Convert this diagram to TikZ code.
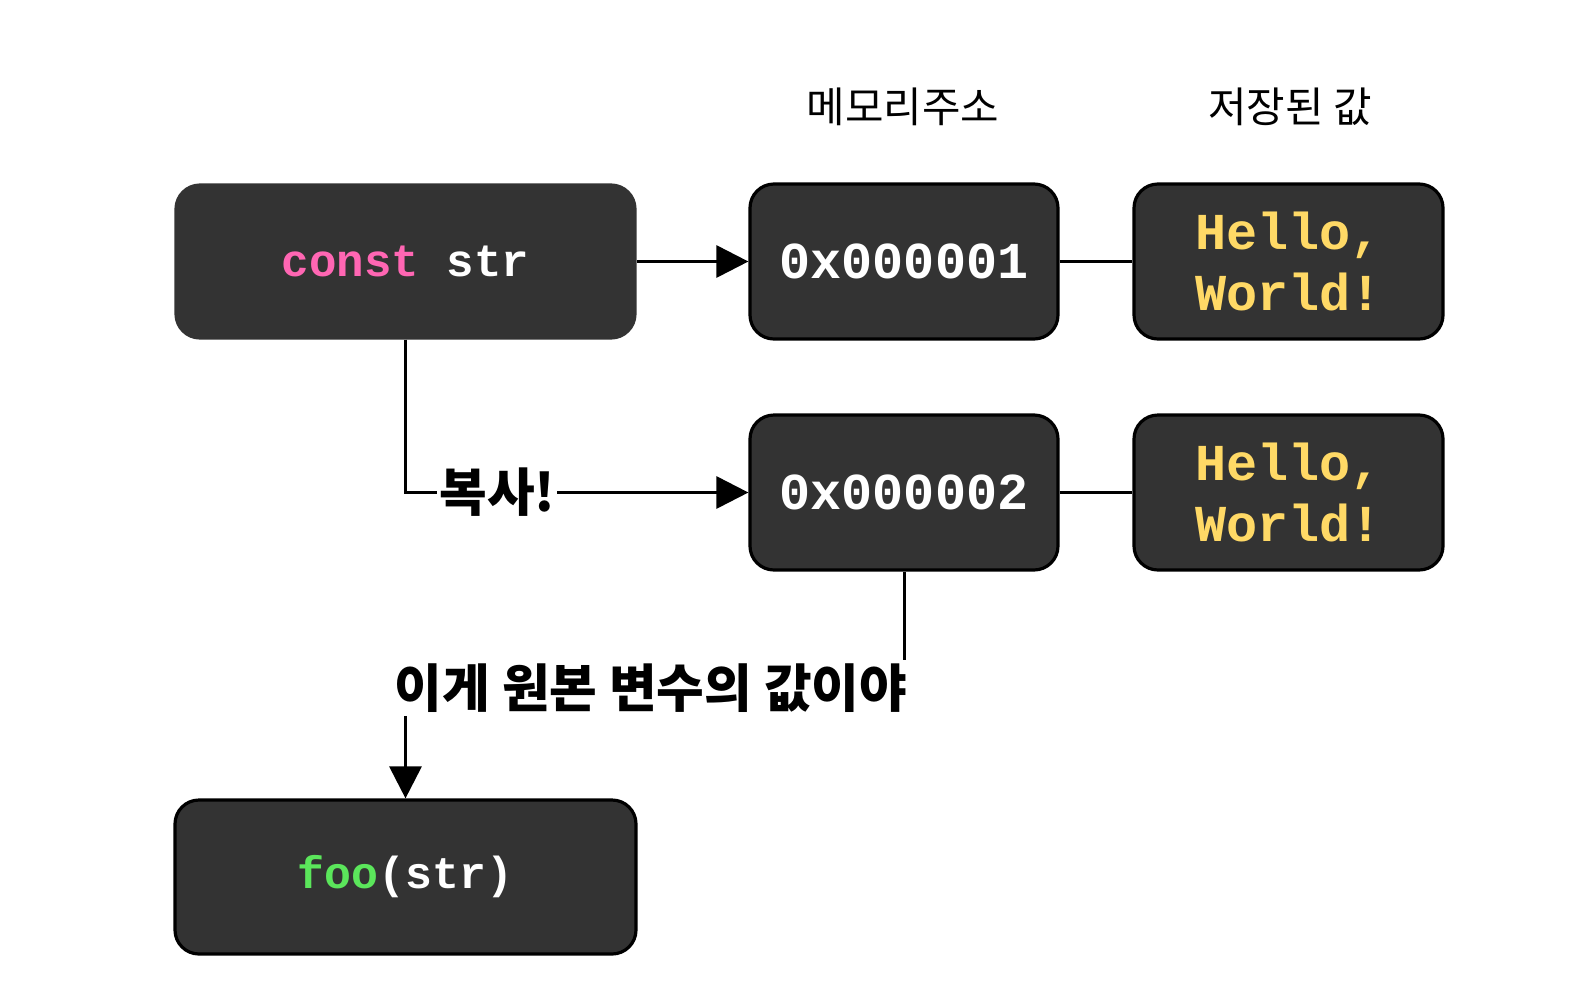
\documentclass[tikz,border=0pt]{standalone}
\usepackage{fontspec}
\setmonofont{Liberation Mono}
\newfontfamily\kr{Noto Sans CJK KR}
\usetikzlibrary{arrows.meta}
\definecolor{boxfill}{HTML}{333333}
\definecolor{kwpink}{HTML}{FF66B3}
\definecolor{fngreen}{HTML}{5BE65B}
\definecolor{valyellow}{HTML}{FFD966}
\tikzset{
	>={Triangle[length=16bp,width=16bp]},
	codebox/.style={rectangle, rounded corners=12bp, fill=boxfill, draw=black, line width=1.6bp,
		font=\ttfamily\bfseries, text=white, align=center, inner sep=0pt},
	memlabel/.style={font=\kr\bfseries\fontsize{26}{30}\selectfont, fill=white, inner sep=1pt},
	header/.style={font=\kr\fontsize{21}{25}\selectfont}
}
\begin{document}
\begin{tikzpicture}[x=0.5bp, y=-0.5bp, line width=1.5bp]
		\useasboundingbox (0,0) rectangle (1574,996);
		%headers
		\node[header] (hAddr) at (903, 107){메모리주소};
		\node[header] (hVal) at (1290, 107){저장된 값};
		
		%variables
		\node[codebox, draw=boxfill, minimum width=229.5bp, minimum height=76.5bp, font=\ttfamily\bfseries\fontsize{23}{26}\selectfont] (str) at (405.5, 261.5){\textcolor{kwpink}{const} str};
		\node[codebox, minimum width=230.5bp, minimum height=77bp, font=\ttfamily\bfseries\fontsize{22.5}{26}\selectfont] (foo) at (405.5, 877){\textcolor{fngreen}{foo}(str)};
		
		%memory
		\foreach \i/\y in {1/261.5, 2/492.5}{
			\node[codebox, minimum width=154bp, minimum height=77.5bp, font=\ttfamily\bfseries\fontsize{26}{30}\selectfont] (addr\i) at (904, \y){0x00000\i};
			\node[codebox, minimum width=154.5bp, minimum height=77.5bp, text=valyellow, font=\ttfamily\bfseries\fontsize{26}{31}\selectfont] (val\i) at (1288.5, \y){Hello,\\World!};
			\draw (addr\i) -- (val\i);
		}
		
		%connectors
		\draw[->] (str) -- (addr1);
		\draw[->] (str.south) |- node[memlabel, pos=0.634]{복사!} (addr2.west);
		\node[memlabel] (orig) at (651, 688){이게 원본 변수의 값이야};
		\draw (addr2.south) -- (addr2.south |- orig.north);
		\draw[->] (orig.south -| foo.north) -- (foo.north);
\end{tikzpicture}
\end{document}
